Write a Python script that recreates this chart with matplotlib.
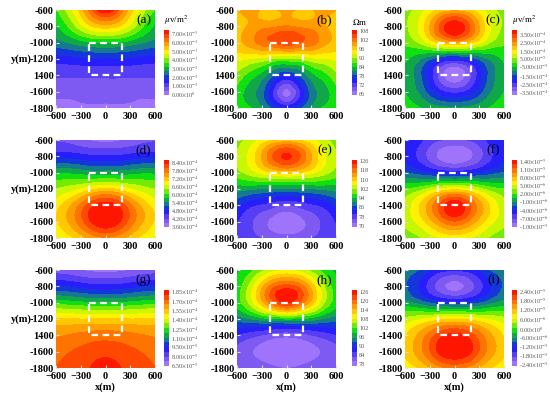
import numpy as np
import matplotlib.pyplot as plt
import matplotlib.tri as mtri
from matplotlib.colors import LinearSegmentedColormap

plt.rcParams['font.family'] = ['Liberation Serif', 'DejaVu Serif']
plt.rcParams['mathtext.fontset'] = 'stix'

# grid (x across, y down)
xs = [-600, -400, -200, 0, 200, 400, 600]
ys = [-600, -800, -1000, -1200, -1400, -1600, -1800]

# (a) units 1e-3
field_a = [[3.5, 4.5, 6.0, 7.2, 6.0, 4.5, 3.5],
           [3.0, 3.8, 4.8, 5.2, 4.8, 3.8, 3.0],
           [2.4, 2.7, 3.0, 3.1, 3.0, 2.7, 2.4],
           [1.4, 1.5, 1.6, 1.6, 1.6, 1.5, 1.4],
           [0.8, 0.8, 0.8, 0.8, 0.8, 0.8, 0.8],
           [0.4, 0.4, 0.5, 0.5, 0.5, 0.4, 0.4],
           [0.1, 0.15, 0.15, 0.15, 0.15, 0.15, 0.1]]
# (b) ohm m
field_b = [[98, 99, 97, 99, 97, 99, 98],
           [96, 99, 100, 101, 100, 99, 96],
           [97, 100, 103, 105, 103, 100, 97],
           [93, 92, 90, 89, 90, 92, 93],
           [89, 85, 80, 76, 80, 85, 89],
           [86, 82, 75, 67, 75, 82, 86],
           [87, 84, 79, 76, 79, 84, 87]]
# (c) units 1e-4
field_c = [[0.3, 0.8, 1.5, 1.8, 1.5, 0.8, 0.3],
           [0.4, 1.2, 2.8, 3.8, 2.8, 1.2, 0.4],
           [0.1, 0.6, 1.5, 2.0, 1.5, 0.6, 0.1],
           [-0.4, -1.0, -1.8, -2.2, -1.8, -1.0, -0.4],
           [-0.6, -1.5, -3.0, -3.8, -3.0, -1.5, -0.6],
           [-0.5, -1.2, -2.2, -2.6, -2.2, -1.2, -0.5],
           [-0.2, -0.5, -0.8, -0.9, -0.8, -0.5, -0.2]]
# (d) units 1e-4
field_d = [[4.1, 4.0, 3.8, 3.7, 3.8, 4.0, 4.1],
           [4.6, 4.6, 4.5, 4.5, 4.5, 4.6, 4.6],
           [5.6, 5.6, 5.5, 5.5, 5.5, 5.6, 5.6],
           [6.3, 6.5, 6.8, 7.0, 6.8, 6.5, 6.3],
           [6.8, 7.3, 8.0, 8.4, 8.0, 7.3, 6.8],
           [6.9, 7.4, 8.1, 8.5, 8.1, 7.4, 6.9],
           [6.6, 6.9, 7.3, 7.5, 7.3, 6.9, 6.6]]
# (e) ohm m
field_e = [[100, 104, 108, 110, 108, 104, 100],
           [102, 108, 118, 124, 118, 108, 102],
           [100, 104, 108, 110, 108, 104, 100],
           [92, 91, 90, 90, 90, 91, 92],
           [84, 80, 78, 76, 78, 80, 84],
           [80, 76, 72, 70, 72, 76, 80],
           [79, 77, 75, 74, 75, 77, 79]]
# (f) units 1e-6
field_f = [[-4, -5.5, -7, -7.5, -7, -5.5, -4],
           [-4.5, -6.5, -9, -10, -9, -6.5, -4.5],
           [-2.5, -3.5, -4.5, -5, -4.5, -3.5, -2.5],
           [2, 3, 5, 6, 5, 3, 2],
           [4, 7, 11, 14, 11, 7, 4],
           [4, 6, 9, 11, 9, 6, 4],
           [2.5, 3.5, 5, 5.5, 5, 3.5, 2.5]]
# (g) units 1e-5
field_g = [[7.5, 7.3, 7.0, 6.9, 7.0, 7.3, 7.5],
           [9.5, 9.3, 9.0, 8.9, 9.0, 9.3, 9.5],
           [12.2, 12.0, 11.8, 11.7, 11.8, 12.0, 12.2],
           [14.8, 14.8, 14.8, 14.8, 14.8, 14.8, 14.8],
           [16.2, 16.4, 16.6, 16.7, 16.6, 16.4, 16.2],
           [16.8, 17.1, 17.4, 17.6, 17.4, 17.1, 16.8],
           [17.1, 17.4, 17.8, 18.2, 17.8, 17.4, 17.1]]
# (h) ohm m
field_h = [[98, 102, 106, 108, 106, 102, 98],
           [100, 108, 118, 122, 118, 108, 100],
           [100, 108, 118, 124, 118, 108, 100],
           [94, 96, 98, 99, 98, 96, 94],
           [86, 84, 82, 81, 82, 84, 86],
           [82, 80, 78, 77, 78, 80, 82],
           [83, 82, 81, 80, 81, 82, 83]]
# (i) units 1e-5
field_i = [[-0.8, -1.0, -1.4, -1.5, -1.4, -1.0, -0.8],
           [-0.9, -1.4, -2.0, -2.3, -2.0, -1.4, -0.9],
           [-0.5, -0.8, -1.1, -1.2, -1.1, -0.8, -0.5],
           [0.4, 0.6, 0.8, 0.9, 0.8, 0.6, 0.4],
           [0.9, 1.4, 2.0, 2.3, 2.0, 1.4, 0.9],
           [1.0, 1.5, 2.2, 2.5, 2.2, 1.5, 1.0],
           [0.7, 1.0, 1.4, 1.6, 1.4, 1.0, 0.7]]

X = r'$\times$'
ticks_a = [0, 1, 2, 3, 4, 5, 6, 7]
labels_a = ['0.00' + X + '10$^{0}$'] + ['%.2f' % v + X + '10$^{-3}$' for v in ticks_a[1:]]
ticks_b = [66, 72, 78, 84, 90, 96, 102, 108]
labels_b = [str(v) for v in ticks_b]
ticks_c = [-3.5, -2.5, -1.5, -0.5, 0.5, 1.5, 2.5, 3.5]
labels_c = ['-3.50' + X + '10$^{-4}$', '-2.50' + X + '10$^{-4}$', '-1.50' + X + '10$^{-4}$',
            '-5.00' + X + '10$^{-5}$', '5.00' + X + '10$^{-5}$', '1.50' + X + '10$^{-4}$',
            '2.50' + X + '10$^{-4}$', '3.50' + X + '10$^{-4}$']
ticks_d = [3.6, 4.2, 4.8, 5.4, 6.0, 6.6, 7.2, 7.8, 8.4]
labels_d = ['%.2f' % v + X + '10$^{-4}$' for v in ticks_d]
ticks_e = [70, 78, 86, 94, 102, 110, 118, 126]
labels_e = [str(v) for v in ticks_e]
ticks_f = [-10, -7, -4, -1, 2, 5, 8, 11, 14]
labels_f = ['-1.00' + X + '10$^{-5}$', '-7.00' + X + '10$^{-6}$', '-4.00' + X + '10$^{-6}$',
            '-1.00' + X + '10$^{-6}$', '2.00' + X + '10$^{-6}$', '5.00' + X + '10$^{-6}$',
            '8.00' + X + '10$^{-6}$', '1.10' + X + '10$^{-5}$', '1.40' + X + '10$^{-5}$']
ticks_g = [6.5, 8.0, 9.5, 11.0, 12.5, 14.0, 15.5, 17.0, 18.5]
labels_g = ['6.50' + X + '10$^{-5}$', '8.00' + X + '10$^{-5}$', '9.50' + X + '10$^{-5}$',
            '1.10' + X + '10$^{-4}$', '1.25' + X + '10$^{-4}$', '1.40' + X + '10$^{-4}$',
            '1.55' + X + '10$^{-4}$', '1.70' + X + '10$^{-4}$', '1.85' + X + '10$^{-4}$']
ticks_h = [78, 84, 90, 96, 102, 108, 114, 120, 126]
labels_h = [str(v) for v in ticks_h]
ticks_i = [-2.4, -1.8, -1.2, -0.6, 0.0, 0.6, 1.2, 1.8, 2.4]
labels_i = ['-2.40' + X + '10$^{-5}$', '-1.80' + X + '10$^{-5}$', '-1.20' + X + '10$^{-5}$',
            '-6.00' + X + '10$^{-6}$', '0.00' + X + '10$^{0}$', '6.00' + X + '10$^{-6}$',
            '1.20' + X + '10$^{-5}$', '1.80' + X + '10$^{-5}$', '2.40' + X + '10$^{-5}$']

box_x = [-200, 200, 200, -200, -200]
box_y = [-1000, -1000, -1400, -1400, -1000]

cmap = LinearSegmentedColormap.from_list('surfer', [
    (0.00, '#b080ff'), (0.12, '#7050f0'), (0.25, '#1010ff'), (0.33, '#1870a0'),
    (0.40, '#10a050'), (0.47, '#10e010'), (0.56, '#a0f000'), (0.64, '#ffff00'),
    (0.78, '#ffa000'), (0.90, '#ff5000'), (1.00, '#ff0000')])

panels = [
    ('(a)', field_a, -0.2, 7.3, ticks_a, labels_a, r'$\mu$v/m$^2$'),
    ('(b)', field_b, 65, 109, ticks_b, labels_b, r'$\Omega$m'),
    ('(c)', field_c, -3.9, 3.9, ticks_c, labels_c, r'$\mu$v/m$^2$'),
    ('(d)', field_d, 3.5, 8.5, ticks_d, labels_d, None),
    ('(e)', field_e, 69, 127, ticks_e, labels_e, None),
    ('(f)', field_f, -10.3, 14.3, ticks_f, labels_f, None),
    ('(g)', field_g, 6.4, 18.6, ticks_g, labels_g, None),
    ('(h)', field_h, 77, 127, ticks_h, labels_h, None),
    ('(i)', field_i, -2.5, 2.5, ticks_i, labels_i, None),
]

W, H = 550.0, 403.0
col_left = [56, 237, 405]
row_top = [10, 140, 270]
cb_left = [164, 352, 512]
cb_span = [(30, 95), (160, 227), (290, 366)]
aw, ah = 99, 98

gx, gy = np.meshgrid(xs, ys)
tri = mtri.Triangulation(gx.ravel().astype(float), gy.ravel().astype(float))
refiner = mtri.UniformTriRefiner(tri)

fig = plt.figure(figsize=(5.5, 4.03), dpi=100)
for k, (tag, field, lo, hi, ticks, labels, unit) in enumerate(panels):
    r, c = divmod(k, 3)
    ax = fig.add_axes([col_left[c] / W, 1 - (row_top[r] + ah) / H, aw / W, ah / H])
    tri_f, z_f = refiner.refine_field(np.ravel(np.array(field, dtype=float)), subdiv=4)
    z_f = np.clip(z_f, lo + 1e-6, hi - 1e-6)
    levels = np.linspace(lo, hi, 17)
    cs = ax.tricontourf(tri_f, z_f, levels=levels, cmap=cmap)
    ax.plot(box_x, box_y, color='white', lw=1.6, ls=(0, (3, 2)))
    ax.set_xlim(-600, 600)
    ax.set_ylim(-1800, -600)
    ax.set_xticks([-600, -300, 0, 300, 600])
    ax.set_yticks([-600, -800, -1000, -1200, -1400, -1600, -1800])
    ylabs = ['-600', '-800', '-1000', '-1200', '-1400', '-1600', '-1800']
    if r == 0 or c == 0:
        ylabs[4] = '1400'
    ax.set_yticklabels(ylabs)
    ax.tick_params(labelsize=7.5, length=2, direction='in', color='#dddddd', pad=1.5)
    ax.tick_params(axis='x', pad=3)
    for t in ax.get_xticklabels() + ax.get_yticklabels():
        t.set_fontweight('bold')
    for s in ax.spines.values():
        s.set_visible(False)
    ax.text(0.96, 0.9, tag, transform=ax.transAxes, ha='right', va='center', fontsize=9.5)
    if c == 0:
        ax.text(-0.245, -1200, 'y(m)', transform=ax.get_yaxis_transform(),
                ha='right', va='center', fontsize=7.5, fontweight='bold')
    if r == 2:
        ax.set_xlabel('x(m)', fontsize=7.5, fontweight='bold', labelpad=1)

    y0, y1 = cb_span[r]
    cax = fig.add_axes([cb_left[c] / W, 1 - y1 / H, 5 / W, (y1 - y0) / H])
    cb = fig.colorbar(cs, cax=cax, ticks=ticks)
    cb.set_ticklabels(labels)
    cb.outline.set_visible(False)
    cax.tick_params(labelsize=4.4, length=0, pad=1.5, labelcolor='#555555')
    if unit:
        cax.text(0.0, 1.04, unit, transform=cax.transAxes, ha='left', va='bottom', fontsize=6.5)

fig.savefig('out.png', dpi=100)
